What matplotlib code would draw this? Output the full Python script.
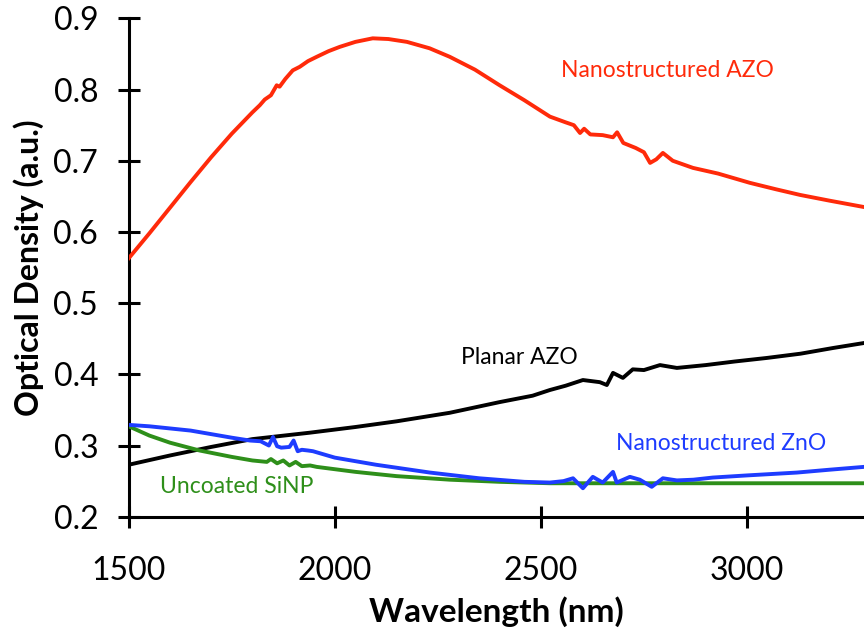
import matplotlib
matplotlib.use("Agg")
import matplotlib.pyplot as plt

plt.rcParams['font.family'] = ['Lato', 'DejaVu Sans']

# Nanostructured AZO (red)
azo_nano_x = [1500, 1550, 1600, 1650, 1700, 1750, 1800, 1818, 1830, 1845, 1859, 1866, 1880, 1898, 1915, 1935, 1956, 1985, 2012, 2050, 2092, 2130, 2175, 2230, 2279, 2340, 2400, 2460, 2522, 2560, 2580, 2595, 2605, 2620, 2650, 2675, 2685, 2700, 2730, 2750, 2765, 2780, 2796, 2820, 2869, 2930, 3007, 3070, 3129, 3200, 3284]
azo_nano_y = [0.563, 0.598, 0.634, 0.670, 0.705, 0.738, 0.768, 0.778, 0.786, 0.792, 0.806, 0.804, 0.815, 0.827, 0.832, 0.840, 0.846, 0.854, 0.860, 0.867, 0.872, 0.871, 0.867, 0.858, 0.846, 0.828, 0.806, 0.785, 0.762, 0.754, 0.750, 0.739, 0.745, 0.737, 0.736, 0.733, 0.740, 0.725, 0.718, 0.712, 0.697, 0.702, 0.711, 0.700, 0.690, 0.682, 0.669, 0.660, 0.652, 0.644, 0.635]

# Planar AZO (black)
azo_planar_x = [1500, 1600, 1700, 1800, 1939, 2050, 2150, 2279, 2400, 2480, 2522, 2560, 2602, 2643, 2660, 2675, 2699, 2723, 2750, 2789, 2830, 2900, 2970, 3048, 3130, 3209, 3284]
azo_planar_y = [0.273, 0.286, 0.298, 0.309, 0.318, 0.326, 0.334, 0.346, 0.361, 0.370, 0.378, 0.384, 0.392, 0.389, 0.385, 0.402, 0.395, 0.407, 0.406, 0.413, 0.409, 0.413, 0.418, 0.423, 0.429, 0.437, 0.444]

# Nanostructured ZnO (blue)
zno_x = [1500, 1550, 1650, 1750, 1794, 1820, 1840, 1850, 1860, 1870, 1890, 1900, 1910, 1920, 1935, 1947, 2000, 2100, 2231, 2350, 2460, 2522, 2555, 2578, 2602, 2626, 2650, 2675, 2684, 2716, 2740, 2769, 2796, 2830, 2870, 2917, 3000, 3121, 3200, 3284]
zno_y = [0.329, 0.327, 0.321, 0.311, 0.307, 0.306, 0.300, 0.312, 0.299, 0.297, 0.298, 0.307, 0.292, 0.294, 0.293, 0.292, 0.283, 0.273, 0.262, 0.254, 0.249, 0.248, 0.250, 0.254, 0.240, 0.256, 0.248, 0.263, 0.248, 0.256, 0.252, 0.242, 0.254, 0.251, 0.252, 0.255, 0.258, 0.262, 0.266, 0.270]

# Uncoated SiNP (green)
sinp_x = [1500, 1550, 1600, 1672, 1750, 1800, 1835, 1845, 1860, 1875, 1890, 1905, 1920, 1940, 1956, 2050, 2150, 2279, 2400, 2522, 2650, 2800, 3000, 3150, 3284]
sinp_y = [0.327, 0.314, 0.304, 0.293, 0.284, 0.279, 0.277, 0.281, 0.275, 0.279, 0.272, 0.277, 0.271, 0.272, 0.270, 0.263, 0.257, 0.252, 0.249, 0.247, 0.247, 0.247, 0.247, 0.247, 0.247]

x_ticks = [1500, 2000, 2500, 3000]
y_ticks = [0.2, 0.3, 0.4, 0.5, 0.6, 0.7, 0.8, 0.9]

red = '#FF2A0A'
blue = '#1E3CFF'
green = '#2E8F1A'

fig = plt.figure(figsize=(8.64, 6.34), dpi=100)
ax = fig.add_axes([0.149, 0.185, 0.851, 0.786])

lw = 2.8
ax.plot(azo_nano_x, azo_nano_y, color=red, lw=lw, zorder=3)
ax.plot(azo_planar_x, azo_planar_y, color='black', lw=lw, zorder=3)
ax.plot(sinp_x, sinp_y, color=green, lw=lw, zorder=3)
ax.plot(zno_x, zno_y, color=blue, lw=lw, zorder=4)

ax.set_xlim(1500, 3284)
ax.set_ylim(0.2, 0.9)
ax.set_xticks(x_ticks)
ax.set_yticks(y_ticks)
ax.set_yticklabels([f"{v:.1f}" for v in y_ticks])

for s in ['top', 'right']:
    ax.spines[s].set_visible(False)
for s in ['left', 'bottom']:
    ax.spines[s].set_linewidth(2.2)

ax.tick_params(axis='both', direction='inout', length=16, width=2.2, labelsize=23)
ax.tick_params(axis='x', pad=20)
ax.tick_params(axis='y', pad=14)

ax.set_xlabel('Wavelength (nm)', fontsize=24, fontweight='bold', labelpad=8)
ax.set_ylabel('Optical Density (a.u.)', fontsize=23, fontweight='bold', labelpad=7)

fs = 16.5
ax.text(2806, 0.827, 'Nanostructured AZO', color=red, fontsize=fs, ha='center', va='center')
ax.text(2449, 0.424, 'Planar AZO', color='black', fontsize=fs, ha='center', va='center')
ax.text(2937, 0.303, 'Nanostructured ZnO', color=blue, fontsize=fs, ha='center', va='center')
ax.text(1762, 0.242, 'Uncoated SiNP', color=green, fontsize=fs, ha='center', va='center')

fig.savefig('out.png', dpi=100)
